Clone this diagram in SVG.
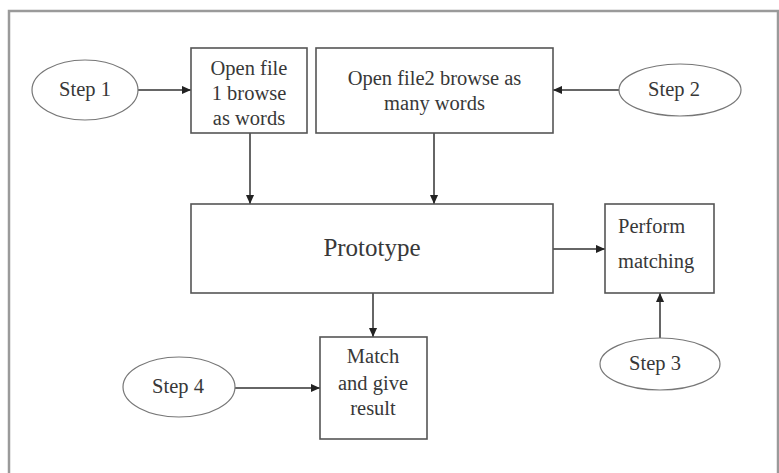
<svg xmlns="http://www.w3.org/2000/svg" width="779" height="473" viewBox="0 0 779 473">
  <style>
    .frame { fill: none; stroke: #9a9a9a; stroke-width: 2.5; }
    .box { fill: #fff; stroke: #555; stroke-width: 1.6; }
    .oval { fill: #fff; stroke: #777; stroke-width: 1.2; }
    .t { font-family: "Liberation Serif", "Times New Roman", serif; font-size: 20.5px; fill: #383838; text-anchor: middle; }
    .big { font-size: 25px; }
    .left { text-anchor: start; }
    .edge { fill: none; stroke: #333; stroke-width: 1.5; marker-end: url(#arrow); }
  </style>
  <defs>
    <marker id="arrow" viewBox="0 0 10 10" refX="10" refY="5" markerWidth="9" markerHeight="9" markerUnits="userSpaceOnUse" orient="auto">
      <path d="M0,0.5 L10,5 L0,9.5 Z" fill="#222"/>
    </marker>
  </defs>
  <rect width="779" height="473" fill="#fff"/>
  <!-- outer frame -->
  <rect class="frame" x="9" y="11" width="769" height="470"/>

  <g id="connectors">
    <line class="edge" x1="138" y1="90" x2="191" y2="90"/>
    <line class="edge" x1="619" y1="90" x2="553" y2="90"/>
    <line class="edge" x1="250" y1="133" x2="250" y2="204"/>
    <line class="edge" x1="434" y1="133" x2="434" y2="204"/>
    <line class="edge" x1="553" y1="249" x2="605" y2="249"/>
    <line class="edge" x1="373" y1="293" x2="373" y2="337"/>
    <line class="edge" x1="660" y1="338" x2="660" y2="293"/>
    <line class="edge" x1="235" y1="388" x2="320" y2="388"/>
  </g>

  <g id="step1">
    <ellipse class="oval" cx="85" cy="90" rx="53" ry="30"/>
    <text class="t" x="85" y="96">Step 1</text>
  </g>
  <g id="openFile1">
    <rect class="box" x="191" y="48" width="116" height="85"/>
    <text class="t" x="249" y="75">Open file</text>
    <text class="t" x="249" y="100">1 browse</text>
    <text class="t" x="249" y="125">as words</text>
  </g>
  <g id="openFile2">
    <rect class="box" x="316" y="48" width="237" height="85"/>
    <text class="t" x="434.5" y="85">Open file2 browse as</text>
    <text class="t" x="434.5" y="110">many words</text>
  </g>
  <g id="step2">
    <ellipse class="oval" cx="680" cy="90" rx="61" ry="26"/>
    <text class="t" x="674" y="96">Step 2</text>
  </g>
  <g id="prototype">
    <rect class="box" x="191" y="204" width="362" height="89"/>
    <text class="t big" x="372" y="256">Prototype</text>
  </g>
  <g id="performMatching">
    <rect class="box" x="605" y="204" width="109" height="89"/>
    <text class="t left" x="618" y="233">Perform</text>
    <text class="t left" x="618" y="268">matching</text>
  </g>
  <g id="step3">
    <ellipse class="oval" cx="660" cy="364" rx="60" ry="26"/>
    <text class="t" x="655" y="370">Step 3</text>
  </g>
  <g id="matchResult">
    <rect class="box" x="320" y="337" width="107" height="102"/>
    <text class="t" x="373" y="363">Match</text>
    <text class="t" x="373" y="390">and give</text>
    <text class="t" x="373" y="415">result</text>
  </g>
  <g id="step4">
    <ellipse class="oval" cx="179" cy="387" rx="56" ry="30"/>
    <text class="t" x="178" y="393">Step 4</text>
  </g>
</svg>
